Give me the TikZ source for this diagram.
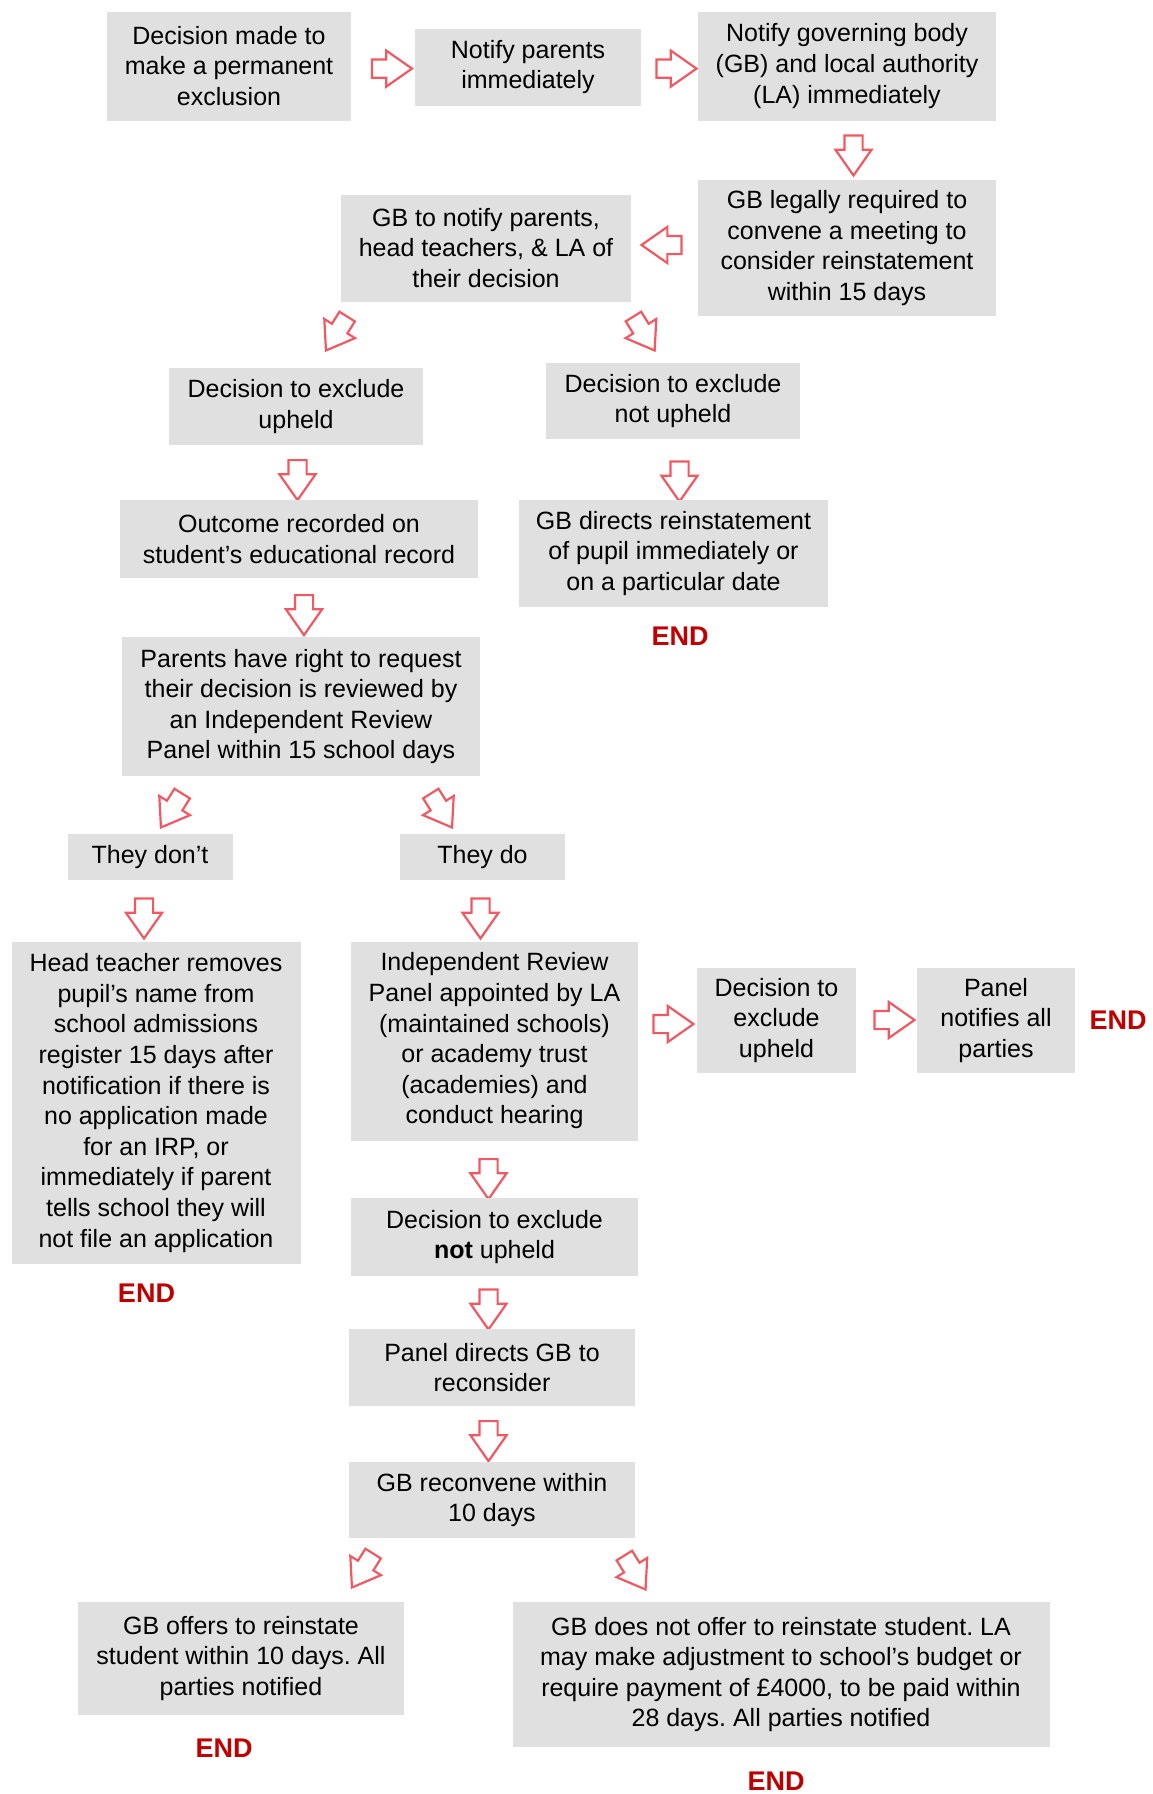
\documentclass[tikz,border=0pt]{standalone}
\usepackage{fontspec}
\setmainfont{Liberation Sans}
\usetikzlibrary{shapes.arrows}
\definecolor{boxFill}{RGB}{224,224,224}
\definecolor{arrRed}{RGB}{242,88,98}
\definecolor{endRed}{RGB}{192,0,0}
\frenchspacing

\begin{document}
\begin{tikzpicture}[x=0.5pt, y=-0.5pt,
        stepbox/.style={rectangle, fill=boxFill, inner sep=2pt, align=center, font=\fontsize{12.5}{15.3}\selectfont},
        blkarr/.style={single arrow, draw=arrRed, line width=1.1pt, inner xsep=0pt, inner ysep=4pt, minimum height=20pt, single arrow head extend=4.5pt, single arrow tip angle=70},
        endlbl/.style={font=\fontsize{13.5}{15}\selectfont\bfseries, text=endRed, inner sep=0pt},
    ]
    \useasboundingbox (0,0) rectangle (1152,1794);
    % top row
    \node[stepbox, minimum width=122pt, minimum height=54.5pt] at (229,66) (dec) {Decision made to\\make a permanent\\exclusion};
    \node[stepbox, minimum width=113pt, minimum height=38.5pt] at (528,67) (notp) {Notify parents\\immediately};
    \node[stepbox, minimum width=149pt, minimum height=54.5pt] at (847,66) (notgb) {Notify governing body\\(GB) and local authority\\(LA) immediately};
    \node[blkarr] at (385.5,68.6) (a1) {};
    \node[blkarr] at (670,68.6) (a2) {};
    \node[blkarr, rotate=-90] at (853.5,149) (a3) {};
    % GB meeting
    \node[stepbox, minimum width=149pt, minimum height=68pt] at (847,248) (legal) {GB legally required to\\convene a meeting to\\consider reinstatement\\within 15 days};
    \node[stepbox, minimum width=145pt, minimum height=53.5pt] at (486,248) (gbnot) {GB to notify parents,\\head teachers, \& LA of\\their decision};
    \node[blkarr, rotate=180] at (668,245) (a4) {};
    \node[blkarr, rotate=-122] at (340,328) (a5) {};
    \node[blkarr, rotate=-58] at (640.6,328) (a6) {};
    % first decision
    \node[stepbox, minimum width=127pt, minimum height=38.5pt] at (296,406.5) (upL) {Decision to exclude\\upheld};
    \node[stepbox, minimum width=127pt, minimum height=38pt] at (673,401) (notupR) {Decision to exclude\\not upheld};
    \node[blkarr, rotate=-90] at (297.5,473.6) (a7) {};
    \node[blkarr, rotate=-90] at (679.5,475) (a8) {};
    \node[stepbox, minimum width=179pt, minimum height=39pt] at (299,539) (outc) {Outcome recorded on\\student’s educational record};
    \node[stepbox, minimum width=154.5pt, minimum height=53.5pt] at (673.5,553.5) (reinst) {GB directs reinstatement\\of pupil immediately or\\on a particular date};
    \node[endlbl] at (680,636) (end1) {END};
    \node[blkarr, rotate=-90] at (304,608.6) (a9) {};
    \node[stepbox, minimum width=179pt, minimum height=69.5pt] at (301,706.5) (rights) {Parents have right to request\\their decision is reviewed by\\an Independent Review\\Panel within 15 school days};
    \node[blkarr, rotate=-122] at (175,805) (a10) {};
    \node[blkarr, rotate=-58] at (438,805) (a11) {};
    \node[stepbox, minimum width=82.5pt, minimum height=23pt] at (150,857) (dont) {They don’t};
    \node[stepbox, minimum width=82.5pt, minimum height=23pt] at (482.5,857) (do) {They do};
    \node[blkarr, rotate=-90] at (144,912) (a12) {};
    \node[blkarr, rotate=-90] at (480.5,912) (a13) {};
    % review panel
    \node[stepbox, minimum width=144.5pt, minimum height=161pt] at (156,1103) (head) {Head teacher removes\\pupil’s name from\\school admissions\\register 15 days after\\notification if there is\\no application made\\for an IRP, or\\immediately if parent\\tells school they will\\not file an application};
    \node[endlbl] at (146.5,1293) (end3) {END};
    \node[stepbox, minimum width=143.5pt, minimum height=99.5pt] at (494.5,1041) (irp) {Independent Review\\Panel appointed by LA\\(maintained schools)\\or academy trust\\(academies) and\\conduct hearing};
    \node[blkarr] at (667,1024) (a14) {};
    \node[stepbox, minimum width=79.5pt, minimum height=52.5pt] at (776.5,1020.5) (upR) {Decision to\\exclude\\upheld};
    \node[blkarr] at (888,1020) (a15) {};
    \node[stepbox, minimum width=79pt, minimum height=52.5pt] at (996,1020.5) (panel) {Panel\\notifies all\\parties};
    \node[endlbl] at (1118,1020) (end2) {END};
    \node[blkarr, rotate=-90] at (488.5,1172.6) (a16) {};
    \node[stepbox, minimum width=143.5pt, minimum height=39pt] at (494.5,1237) (notup2) {Decision to exclude\\\textbf{not} upheld};
    \node[blkarr, rotate=-90] at (488.5,1303) (a17) {};
    \node[stepbox, minimum width=143pt, minimum height=38.5pt] at (492,1367.5) (direct) {Panel directs GB to\\reconsider};
    \node[blkarr, rotate=-90] at (488.5,1434.6) (a18) {};
    \node[stepbox, minimum width=143pt, minimum height=38pt] at (492,1500) (recon) {GB reconvene within\\10 days};
    \node[blkarr, rotate=-122] at (366,1565) (a19) {};
    \node[blkarr, rotate=-58] at (631.5,1567) (a20) {};
    % outcomes
    \node[stepbox, minimum width=163pt, minimum height=56.5pt] at (241,1658.5) (offer) {GB offers to reinstate\\student within 10 days. All\\parties notified};
    \node[stepbox, minimum width=268.5pt, minimum height=72.5pt] at (781,1674.5) (nooffer) {GB does not offer to reinstate student. LA\\may make adjustment to school’s budget or\\require payment of £4000, to be paid within\\28 days. All parties notified};
    \node[endlbl] at (224,1748) (end4) {END};
    \node[endlbl] at (776,1781) (end5) {END};
\end{tikzpicture}
\end{document}
